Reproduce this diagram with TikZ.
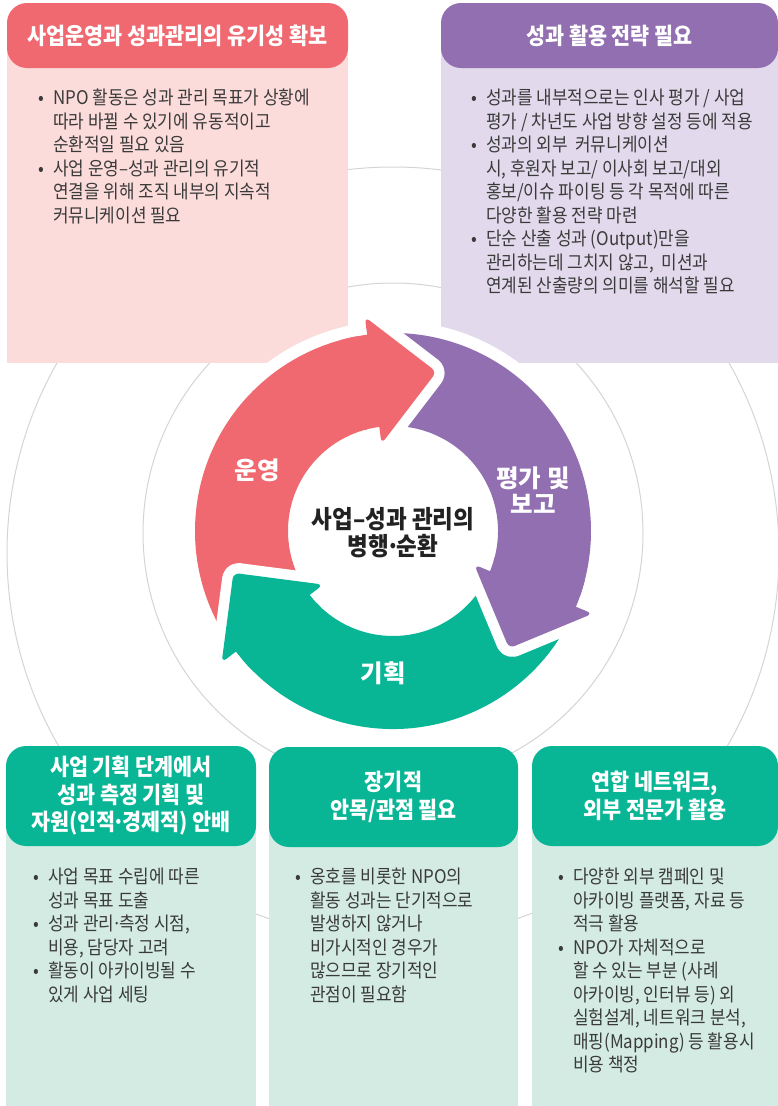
\documentclass[tikz,border=0pt]{standalone}
\usepackage{fontspec}
\setmainfont{Noto Sans CJK KR}[FakeStretch=0.9]
\newfontfamily\widekr{Noto Sans CJK KR}
\usetikzlibrary{positioning}

\definecolor{rosehead}{RGB}{240,104,112}
\definecolor{rosebody}{RGB}{251,220,218}
\definecolor{violethead}{RGB}{145,111,176}
\definecolor{violetbody}{RGB}{226,218,236}
\definecolor{tealhead}{RGB}{8,182,150}
\definecolor{tealbody}{RGB}{212,235,228}
\definecolor{ringgray}{RGB}{212,212,212}
\definecolor{bodygray}{RGB}{58,58,58}
\definecolor{centerink}{RGB}{34,34,34}

\newcommand{\bul}{\makebox[15pt][l]{•}}
\newcommand{\ind}{\hspace*{15pt}}
\newcommand{\mdot}{\kern-.12em·\kern-.12em}

\begin{document}
\begin{tikzpicture}[
  x=1pt, y=-1pt,
  headbox/.style={rounded corners=20pt, text=white, align=center, inner sep=0pt,
                  font=\bfseries\fontsize{23}{27.5}\selectfont},
  bodytext/.style={anchor=north west, inner sep=0pt, align=left, text=bodygray,
                   font=\fontsize{18.8}{23.5}\selectfont},
  ringlabel/.style={text=white, align=center, inner sep=0pt,
                    font=\widekr\bfseries\fontsize{24.5}{25.5}\selectfont},
  centertext/.style={text=centerink, align=center, inner sep=0pt,
                     font=\bfseries\fontsize{25}{27}\selectfont},
  ringline/.style={draw=ringgray, line width=1pt}
]
\useasboundingbox (0,0) rectangle (778,1106);

\draw[ringline] (393,533) circle (250);
\draw[ringline] (393,553) circle (386);

% top row
\fill[rosebody] (7,36) rectangle (348,363);
\node[headbox, fill=rosehead, minimum width=341pt, minimum height=65pt] (opshead) at (177.5,35.5) {사업운영과 성과관리의 유기성 확보};
\node[bodytext] (opsbody) at (38,89) {\bul NPO 활동은 성과 관리 목표가 상황에\\
\ind 따라 바뀔 수 있기에 유동적이고\\
\ind 순환적일 필요 있음\\
\bul 사업 운영–성과 관리의 유기적\\
\ind 연결을 위해 조직 내부의 지속적\\
\ind 커뮤니케이션 필요};

\fill[violetbody] (441,36) rectangle (778,363);
\node[headbox, fill=violethead, minimum width=337pt, minimum height=65pt] (usehead) at (609.5,35.5) {성과 활용 전략 필요};
\node[bodytext] (usebody) at (471,89) {\bul 성과를 내부적으로는 인사 평가 / 사업\\
\ind 평가 / 차년도 사업 방향 설정 등에 적용\\
\bul 성과의 외부\ \ 커뮤니케이션\\
\ind 시, 후원자 보고/ 이사회 보고/대외\\
\ind 홍보/이슈 파이팅 등 각 목적에 따른\\
\ind 다양한 활용 전략 마련\\
\bul 단순 산출 성과 (Output)만을\\
\ind 관리하는데 그치지 않고,\ \ 미션과\\
\ind 연계된 산출량의 의미를 해석할 필요};

% bottom row
\fill[tealbody] (6,796) rectangle (256,1106);
\node[headbox, fill=tealhead, minimum width=250pt, minimum height=100pt] (planhead) at (131,796) {사업 기획 단계에서\\성과 측정 기획 및\\자원(인적\mdot 경제적) 안배};
\node[bodytext] (planbody) at (33,868) {\bul 사업 목표 수립에 따른\\
\ind 성과 목표 도출\\
\bul 성과 관리\mdot 측정 시점,\\
\ind 비용, 담당자 고려\\
\bul 활동이 아카이빙될 수\\
\ind 있게 사업 세팅};

\fill[tealbody] (269,796) rectangle (518,1106);
\node[headbox, fill=tealhead, minimum width=249pt, minimum height=100pt] (longhead) at (393.5,797) {장기적\\안목/관점 필요};
\node[bodytext] (longbody) at (295,868) {\bul 옹호를 비롯한 NPO의\\
\ind 활동 성과는 단기적으로\\
\ind 발생하지 않거나\\
\ind 비가시적인 경우가\\
\ind 많으므로 장기적인\\
\ind 관점이 필요함};

\fill[tealbody] (532,796) rectangle (778,1106);
\node[headbox, fill=tealhead, minimum width=246pt, minimum height=100pt] (nethead) at (655,796) {연합 네트워크,\\외부 전문가 활용};
\node[bodytext] (netbody) at (558,868) {\bul 다양한 외부 캠페인 및\\
\ind 아카이빙 플랫폼, 자료 등\\
\ind 적극 활용\\
\bul NPO가 자체적으로\\
\ind 할 수 있는 부분 (사례\\
\ind 아카이빙, 인터뷰 등) 외\\
\ind 실험설계, 네트워크 분석,\\
\ind 매핑(Mapping) 등 활용시\\
\ind 비용 책정};

% cycle of three arrows
\begin{scope}[shift={(393,531)}, yscale=-1]
  \fill[white] (0,0) circle (210);
  \foreach \col/\a/\b in {rosehead/217.5/97.5, violethead/97.5/-22.5, tealhead/-22.5/-142.5}
    \fill[\col] (\a:198) arc[start angle=\a, end angle=\b, radius=198]
      -- (\b:105) arc[start angle=\b, end angle=\a, radius=105] -- cycle;
  \foreach \col/\b in {rosehead/97.5, violethead/-22.5, tealhead/-142.5}
    \filldraw[fill=\col, draw=white, line width=21pt, line join=round, rounded corners=6pt]
      (\b:216) -- (\b-22.8:165) -- (\b:88) -- cycle;
  \foreach \col/\b in {rosehead/97.5, violethead/-22.5, tealhead/-142.5} {
    \fill[\col, rounded corners=6pt] (\b:216) -- (\b-22.8:165) -- (\b:88) -- cycle;
    \fill[\col] (\b+8:198) arc[start angle=\b+8, end angle=\b-3, radius=198]
      -- (\b-3:105) arc[start angle=\b-3, end angle=\b+8, radius=105] -- cycle;
  }
\end{scope}

\node[ringlabel] (oplabel) at (257,470) {운영};
\node[ringlabel] (evallabel) at (533,490) {평가 및\\보고};
\node[ringlabel] (planlabel) at (383,673) {기획};
\node[centertext] (cyclelabel) at (393,533) {사업–성과 관리의\\병행\mdot 순환};
\end{tikzpicture}
\end{document}
